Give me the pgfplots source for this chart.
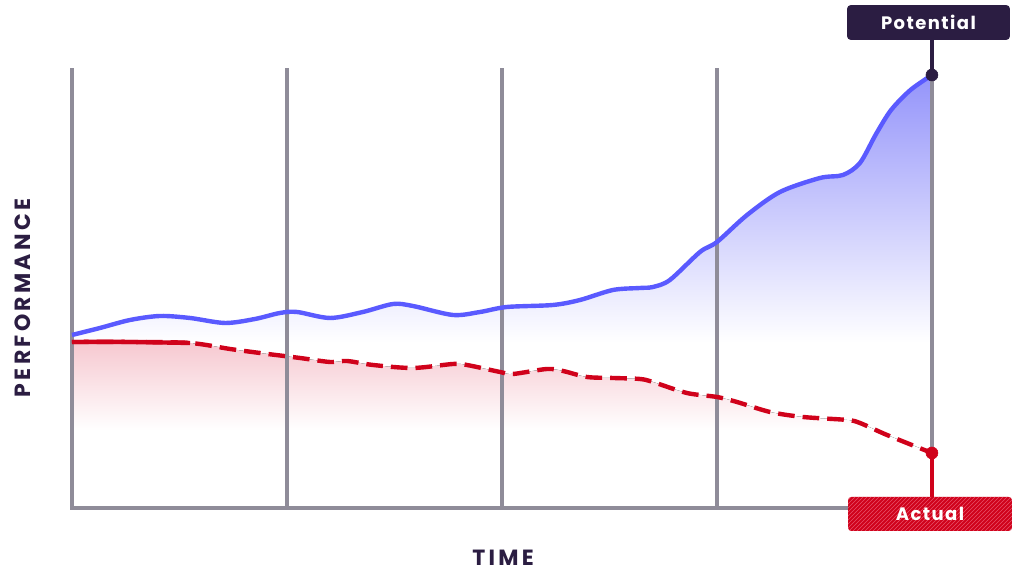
\documentclass[border=0pt]{standalone}
\usepackage{fontspec}
\setmainfont{Poppins}
\newfontfamily\trackfont{Poppins}[LetterSpace=15]
\newfontfamily\boxfont{Poppins}[LetterSpace=8]
\usepackage{pgfplots}
\pgfplotsset{compat=1.18}
\usepgfplotslibrary{fillbetween}
\usetikzlibrary{patterns}
\definecolor{gridgray}{RGB}{143,140,153}
\definecolor{darkpurple}{RGB}{43,29,66}
\definecolor{lineblue}{RGB}{90,90,255}
\definecolor{linered}{RGB}{208,2,27}
\definecolor{bluetop}{RGB}{148,148,250}
\definecolor{redtop}{RGB}{246,200,208}
\definecolor{hatch}{RGB}{232,80,105}
\pgfdeclareverticalshading{redfade}{100bp}{color(0bp)=(white); color(37bp)=(white); color(75bp)=(redtop); color(100bp)=(redtop)}
\pgfdeclareverticalshading{bluefade}{100bp}{color(0bp)=(white); color(25bp)=(white); color(75bp)=(bluetop); color(100bp)=(bluetop)}

\pgfplotstableread{
x y
0 173
0.130 180
0.270 188
0.409 192
0.549 190
0.712 185
0.851 189
0.967 195
1.047 196
1.200 190
1.353 196
1.493 204
1.586 202
1.772 193
1.898 196
2.023 201
2.237 203
2.363 208
2.516 218
2.642 220
2.702 221
2.781 228
2.921 256
3.000 266
3.140 293
3.293 316
3.479 330
3.586 333
3.665 345
3.740 374
3.810 398
3.900 418
4.000 433
}\potential

\pgfplotstableread{
x y
0 166
0.270 166
0.549 165
0.735 159
0.874 155
1.060 150
1.200 146
1.279 147
1.400 143
1.586 140
1.772 144
1.837 143
1.991 136
2.051 134
2.209 139
2.284 137
2.395 131
2.516 130
2.642 129
2.702 126
2.860 115
3.000 111
3.093 106
3.247 96
3.400 91
3.605 88
3.665 85
3.791 73
4.000 55
}\actual

\pgfplotstableread{
x y
0 166
0.270 166
0.549 165
}\actualsolid

\begin{document}
\begin{tikzpicture}
\begin{axis}[
  x=161.25pt, y=0.75pt,
  xmin=0, xmax=4, ymin=0, ymax=440,
  axis lines=none,
  clip=false,
  ticks=none,
]
% fills
\addplot[name path=pot, draw=none, smooth, tension=0.5] table {\potential};
\addplot[name path=potbase, draw=none] coordinates {(0,165) (4,165)};
\addplot[name path=act, draw=none, smooth, tension=0.5] table {\actual};
\addplot[name path=actbase, draw=none] coordinates {(0,50) (4,50)};
\addplot[shade, shading=bluefade, draw=none] fill between[of=pot and potbase];
\addplot[shade, shading=redfade, draw=none] fill between[of=act and actbase];
% grid lines
\addplot[gridgray, line width=3pt, forget plot] coordinates {(0,0) (0,440)};
\addplot[gridgray, line width=3pt, forget plot] coordinates {(1,0) (1,440)};
\addplot[gridgray, line width=3pt, forget plot] coordinates {(2,0) (2,440)};
\addplot[gridgray, line width=3pt, forget plot] coordinates {(3,0) (3,440)};
\addplot[gridgray, line width=3pt, forget plot] coordinates {(4,0) (4,433)};
\addplot[gridgray, line width=3pt, forget plot, line cap=rect] coordinates {(0,0) (3.7,0)};
% curves
\addplot[lineblue, line width=3.3pt, smooth, tension=0.5] table {\potential};
\addplot[linered, line width=3.3pt, smooth, tension=0.5, dash pattern=on 12.5pt off 6pt] table {\actual};
\addplot[linered, line width=3.3pt, smooth, tension=0.5] table {\actualsolid};
% connectors and end dots
\addplot[darkpurple, line width=3pt] coordinates {(4,433) (4,470)};
\addplot[linered, line width=3pt] coordinates {(4,55) (4,10)};
\addplot[only marks, mark=*, mark size=4.5pt, darkpurple] coordinates {(4,433)};
\addplot[only marks, mark=*, mark size=4.5pt, linered] coordinates {(4,55)};
% label boxes
\node[fill=darkpurple, rounded corners=2.5pt, minimum width=122pt, minimum height=26pt,
      text=white, font=\boxfont\bfseries\fontsize{13.5}{15}\selectfont]
      at (axis cs:3.984,485.5) {Potential};
\node[fill=linered, postaction={pattern=north east lines, pattern color=hatch},
      rounded corners=2.5pt, minimum width=123pt, minimum height=25.5pt,
      text=white, font=\boxfont\bfseries\fontsize{13.5}{15}\selectfont]
      at (axis cs:3.991,-6) {Actual};
% axis titles
\node[rotate=90, text=darkpurple, font=\trackfont\bfseries\fontsize{16.5}{18}\selectfont]
      at (axis cs:-0.228,210) {PERFORMANCE};
\node[text=darkpurple, font=\trackfont\bfseries\fontsize{16.5}{18}\selectfont]
      at (axis cs:2.005,-50) {TIME};
% picture extent
\path (axis cs:-0.33488,508) rectangle (axis cs:4.37209,-64);
\end{axis}
\end{tikzpicture}
\end{document}
